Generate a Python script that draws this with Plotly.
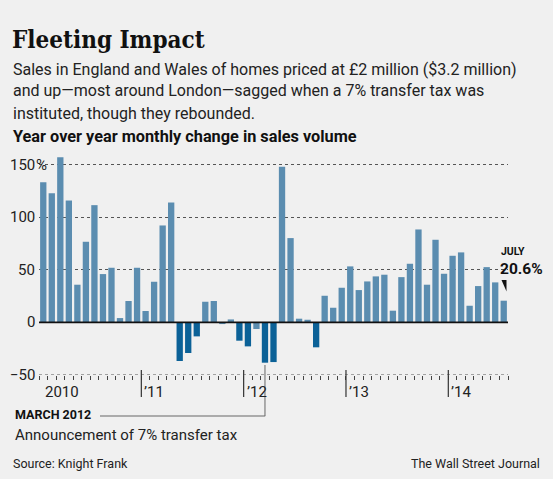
import plotly.graph_objects as go

# ---- data ----
months = [f"{y}-{m:02d}" for y in range(2010, 2015) for m in range(1, 13)][:55]
values = [133.2, 122.8, 157.0, 115.8, 35.8, 76.6, 111.4, 45.9, 51.9, 4.1, 20.3, 51.9,
          10.8, 38.6, 92.1, 113.9, -36.7, -29.1, -13.3, 19.6, 20.3, -1.6, 2.8, -17.4,
          -22.8, -6.3, -38.3, -37.7, 147.8, 80.1, 3.5, 2.5, -23.7, 25.3, 13.9, 32.9,
          53.2, 30.7, 38.9, 43.7, 45.3, 11.1, 43.0, 55.7, 88.3, 35.8, 78.5, 46.2,
          63.3, 66.5, 15.8, 34.5, 52.5, 38.0, 20.6]
year_labels = ["2010", "\u201911", "\u201912", "\u201913", "\u201914"]
ytick_vals = [150, 100, 50, 0, -50]
ytick_text = ["150", "100", "50", "0", "\u221250"]

W, H = 553, 479
L, R, T, B = 39, 45, 154, 104
PW, PH = W - L - R, H - T - B
BG = "#f0f0f0"
LIGHT = "#5b8db0"
DARK = "#0b6197"
SANS = "Roboto, 'Liberation Sans Narrow', Arial, sans-serif"


def px(x):
    return (x - L) / PW


def py(y):
    return (H - B - y) / PH


x = list(range(len(values)))
colors = [DARK if v < -10 else LIGHT for v in values]

fig = go.Figure()
fig.add_trace(go.Bar(x=x, y=values, marker=dict(color=colors, line=dict(width=0)),
                     customdata=months, hovertemplate="%{customdata}: %{y}%<extra></extra>"))

shapes = []
shapes.append(dict(type="line", xref="paper", yref="y", x0=0, x1=1, y0=0, y1=0,
                   line=dict(color="#111", width=1.6), layer="above"))
shapes.append(dict(type="line", xref="paper", yref="y", x0=0, x1=1, y0=-50, y1=-50,
                   line=dict(color="#555", width=1, dash="dot"), layer="below"))
for k in range(1, 5):
    xv = 12 * k - 0.5
    shapes.append(dict(type="line", xref="x", yref="paper", x0=xv, x1=xv,
                       y0=py(397), y1=py(370), line=dict(color="#333", width=1.2)))
xm = 26
shapes.append(dict(type="line", xref="x", yref="paper", x0=xm, x1=xm,
                   y0=py(416), y1=py(365), line=dict(color="#666", width=1)))
shapes.append(dict(type="line", xref="paper", yref="paper", x0=px(100), x1=px(265.2),
                   y0=py(416), y1=py(416), line=dict(color="#666", width=1)))
shapes.append(dict(type="path", xref="paper", yref="paper",
                   path=f"M {px(501.5)} {py(280)} L {px(506.5)} {py(280)} L {px(506.5)} {py(291.5)} Z",
                   fillcolor="#111", line=dict(width=0)))

ann = []
for v, t in zip(ytick_vals, ytick_text):
    ann.append(dict(x=px(36.5), y=v, xref="paper", yref="y", text=t, showarrow=False,
                    xanchor="right", yanchor="middle", font=dict(size=15, color="#222", family=SANS)))
ann.append(dict(x=px(33.5), y=150, xref="paper", yref="y", text="%", showarrow=False,
                xanchor="left", yanchor="middle", font=dict(size=15, color="#222", family=SANS)))
ann.append(dict(x=px(62), y=py(392), xref="paper", yref="paper", text=year_labels[0], showarrow=False,
                xanchor="center", yanchor="middle", font=dict(size=15, color="#222", family=SANS)))
for k in range(1, 5):
    ann.append(dict(x=12 * k - 0.5, y=py(392), xref="x", yref="paper", text=year_labels[k],
                    showarrow=False, xanchor="left", yanchor="middle", xshift=1,
                    font=dict(size=15, color="#222", family=SANS)))
ann.append(dict(x=px(499.5), y=py(251.5), xref="paper", yref="paper", text="<b>JULY</b>", showarrow=False,
                xanchor="left", yanchor="middle", borderpad=0,
                font=dict(size=10.5, color="#111", family=SANS)))
ann.append(dict(x=px(498.5), y=py(268.5), xref="paper", yref="paper", text="<b>20.6%</b>", showarrow=False,
                xanchor="left", yanchor="middle", borderpad=0,
                font=dict(size=15.5, color="#111", family=SANS)))
ann.append(dict(x=px(13), y=py(414), xref="paper", yref="paper", text="<b>MARCH 2012</b>", showarrow=False,
                xanchor="left", yanchor="middle", font=dict(size=12.5, color="#111", family=SANS)))
ann.append(dict(x=px(13), y=py(435), xref="paper", yref="paper", text="Announcement of 7% transfer tax",
                showarrow=False, xanchor="left", yanchor="middle", font=dict(size=15, color="#222", family=SANS)))
ann.append(dict(x=px(11), y=py(463), xref="paper", yref="paper", text="Source: Knight Frank", showarrow=False,
                xanchor="left", yanchor="middle", font=dict(size=12.5, color="#222", family=SANS)))
ann.append(dict(x=px(542), y=py(463), xref="paper", yref="paper", text="The Wall Street Journal",
                showarrow=False, xanchor="right", yanchor="middle", font=dict(size=12.5, color="#222", family=SANS)))
ann.append(dict(x=px(10), y=py(39), xref="paper", yref="paper", text="<b>Fleeting Impact</b>", showarrow=False,
                xanchor="left", yanchor="middle",
                font=dict(size=24, color="#111", family="'DejaVu Serif Condensed', 'DejaVu Serif', serif")))
subtitle = ["Sales in England and Wales of homes priced at \u00a32 million ($3.2 million)",
            "and up\u2014most around London\u2014sagged when a 7% transfer tax was",
            "instituted, though they rebounded."]
for i, line in enumerate(subtitle):
    ann.append(dict(x=px(11), y=py(69 + 22 * i), xref="paper", yref="paper", text=line, showarrow=False,
                    xanchor="left", yanchor="middle", font=dict(size=16, color="#222", family=SANS)))
ann.append(dict(x=px(11), y=py(136), xref="paper", yref="paper",
                text="<b>Year over year monthly change in sales volume</b>", showarrow=False,
                xanchor="left", yanchor="middle", font=dict(size=16.3, color="#111", family=SANS)))

fig.update_layout(
    width=W, height=H, margin=dict(l=L, r=R, t=T, b=B),
    paper_bgcolor=BG, plot_bgcolor=BG, showlegend=False, bargap=0.26,
    xaxis=dict(range=[-0.5, 54.5], showgrid=False, zeroline=False, showline=False,
               tickmode="array", tickvals=[k - 0.5 for k in range(56)], ticktext=[""] * 56,
               ticks="outside", ticklen=4, tickwidth=1, tickcolor="#444", fixedrange=True),
    yaxis=dict(range=[-50, 160], tickmode="array", tickvals=[50, 100, 150], showticklabels=False,
               showgrid=True, gridcolor="#555", griddash="dot", gridwidth=1,
               zeroline=False, showline=False, fixedrange=True),
    shapes=shapes, annotations=ann,
)

fig.write_html("out.html", config={"displayModeBar": False},
               post_script="document.body.style.margin='0';document.body.style.overflow='hidden';")
